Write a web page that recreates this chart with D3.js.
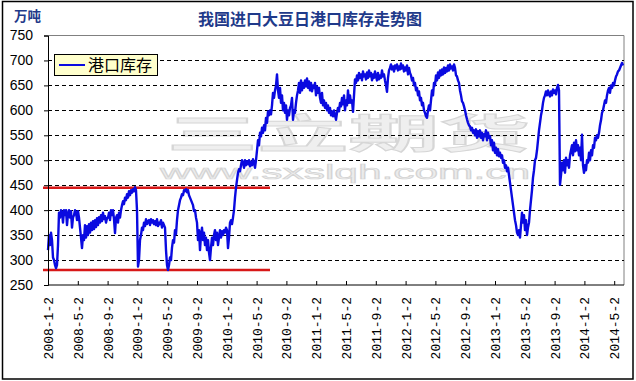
<!DOCTYPE html>
<html><head><meta charset="utf-8">
<script src="https://cdn.jsdelivr.net/npm/d3@7"></script>
<style>body{margin:0;background:#fff}svg{display:block}</style>
</head><body><svg id="c" width="636" height="381"></svg>
<script>
const title = "我国进口大豆日港口库存走势图";
const unitLabel = "万吨";
const seriesName = "港口库存";
const watermarkMain = "三立期货";
const watermarkUrl = "www.sxslqh.com.cn";
const tickLabels = ["2008-1-2","2008-5-2","2008-9-2","2009-1-2","2009-5-2","2009-9-2","2010-1-2","2010-5-2","2010-9-2","2011-1-2","2011-5-2","2011-9-2","2012-1-2","2012-5-2","2012-9-2","2013-1-2","2013-5-2","2013-9-2","2014-1-2","2014-5-2"];
const samplesPerLabel = 29.8; // readings between two consecutive date labels (4 months)
const yTicks = [250,300,350,400,450,500,550,600,650,700,750];
const refLevels = [445, 280];
// port stock readings (10k tonnes), one every few trading days from 2008-1-2
const values = [
320,350,330,355,340,305,300,290,284,290,330,395,
385,
400,395,375,400,390,400,370,392,400,385,398,365,385,390,400,395,380,398,385,365,
345,324,350,340,370,345,368,350,372,355,375,360,378,362,380,366,384,370,386,375,390,378,395,382,388,375,384,385,395,380,400,390,400,382,354,
385,390,375,395,385,400,410,418,412,425,420,432,425,438,430,440,435,442,438,446,
440,400,287,300,340,350,365,360,375,368,382,372,378,380,370,382,375,380,372,378,370,382,368,375,372,
380,365,375,370,365,320,290,280,290,305,300,325,340,335,360,352,380,400,410,420,425,432,430,440,438,442,436,440,430,425,
420,415,410,398,400,385,375,340,360,320,350,365,340,355,330,345,320,340,315,300,325,345,330,350,360,340,355,330,345,360,
345,358,350,360,355,365,360,324,345,375,380,372,385,400,425,445,460,475,482,478,490,500,495,485,500,490,498,492,500,488,
497,490,502,495,485,500,520,540,530,555,548,565,555,570,560,585,575,598,590,600,592,610,635,625,640,650,672,640,625,645,
615,630,600,615,595,610,581,600,590,605,610,625,581,600,595,615,630,640,655,635,660,640,655,645,660,648,664,645,658,640,
655,638,650,645,655,630,648,635,645,625,615,635,610,620,605,615,600,610,595,605,590,598,588,600,590,581,595,605,598,615,
608,625,612,630,600,620,610,640,615,630,615,620,597,630,662,655,670,660,675,665,672,660,678,668,672,662,676,665,680,668,
675,660,672,665,678,668,660,675,662,670,665,680,668,672,660,650,637,665,680,685,692,682,688,678,690,684,692,680,688,682,
694,684,690,678,686,680,690,672,685,675,670,660,665,650,655,640,645,630,638,620,625,610,615,600,595,588,585,600,610,600,
620,640,630,655,650,670,660,676,665,680,670,682,672,686,675,685,678,690,680,692,684,688,680,692,685,670,668,660,655,640,
630,618,615,608,600,590,582,575,570,568,560,565,555,560,550,562,545,558,548,560,545,555,540,552,548,560,540,555,545,548,
530,540,520,535,515,525,510,522,508,515,505,510,495,500,485,490,478,485,470,455,440,425,410,395,380,370,355,350,360,345,
370,395,375,390,360,380,350,365,375,400,420,440,465,480,500,505,520,540,560,575,590,600,615,625,630,638,630,640,632,628,
638,630,642,635,640,632,645,651,640,451,470,495,480,500,475,505,490,500,485,510,520,530,510,535,518,540,520,530,510,525,
500,551,490,475,490,480,500,495,515,500,520,510,530,525,545,540,550,545,555,570,580,595,600,610,620,615,630,640,645,635,
650,645,655,650,660,668,672,678,680,685,690,695,690
];

const svg = d3.select("#c");
const x = d3.scaleLinear().domain([0, values.length - 1]).range([48, 623]);
const y = d3.scaleLinear().domain([250, 750]).range([285, 35.5]);
const navy = "#1f3a8a";

// outer frame
svg.append("rect").attr("x",2.5).attr("y",1.5).attr("width",630.5).attr("height",377.5)
  .attr("fill","#fff").attr("stroke","#000").attr("stroke-width",1.5);

// watermark
svg.append("text").attr("x",167).attr("y",148).text(watermarkMain)
  .attr("font-family","Noto Sans CJK SC").attr("font-weight",700).attr("font-size",40)
  .attr("textLength",363).attr("lengthAdjust","spacingAndGlyphs")
  .attr("fill","#efefef").attr("stroke","#d6d6d6").attr("stroke-width",1);
svg.append("text").attr("x",160).attr("y",179).text(watermarkUrl)
  .attr("font-family","Liberation Sans").attr("font-size",20)
  .attr("textLength",370).attr("lengthAdjust","spacingAndGlyphs")
  .attr("fill","#ececec").attr("stroke","#d4d4d4").attr("stroke-width",0.7);

// plot frame (top/right grey)
svg.append("path").attr("d",`M${x(0)},${y(750)}H624V285`).attr("fill","none").attr("stroke","#808080").attr("stroke-width",1);

// gridlines
svg.append("g").selectAll("line").data(yTicks.filter(v => v > 250 && v < 750)).join("line")
  .attr("x1",48).attr("x2",624).attr("y1",d=>Math.round(y(d))+0.5).attr("y2",d=>Math.round(y(d))+0.5)
  .attr("stroke","#000").attr("stroke-width",1).attr("stroke-dasharray","4,3");

// reference red lines
svg.append("g").selectAll("line").data(refLevels).join("line")
  .attr("x1",43).attr("x2",270).attr("y1",d=>y(d)).attr("y2",d=>y(d))
  .attr("stroke","#d81818").attr("stroke-width",2.5);

// series line
svg.append("path").datum(values)
  .attr("d", d3.line().x((d,i)=>x(i)).y(d=>y(d)))
  .attr("fill","none").attr("stroke","#0a0ae0").attr("stroke-width",2.4).attr("stroke-linejoin","round");

// y axis
const yAxis = svg.append("g").attr("transform","translate(48,0)")
  .call(d3.axisLeft(y).tickValues(yTicks).tickSize(4).tickFormat(d3.format("d")));
yAxis.select(".domain").attr("stroke","#000");
yAxis.selectAll("line").attr("stroke","#000");
yAxis.selectAll("text").attr("font-family","Liberation Sans, Arial").attr("font-size",14).attr("fill","#000").attr("x",-15);

// x axis
const tickIdx = tickLabels.map((d,i)=> i * samplesPerLabel);
const xAxis = svg.append("g").attr("transform","translate(0,285)")
  .call(d3.axisBottom(x).tickValues(tickIdx).tickSizeInner(-4).tickSizeOuter(0).tickFormat((d,i)=>tickLabels[i]));
xAxis.select(".domain").attr("stroke","#000").attr("d","M48,0H624");
xAxis.selectAll("line").attr("stroke","#000");
xAxis.selectAll("text")
  .attr("font-family","Liberation Mono, monospace").attr("font-size",13).attr("fill","#000")
  .attr("text-anchor","end").attr("dy","0.35em").attr("y",0)
  .attr("transform","translate(0,12) rotate(-90)");

// title and unit
svg.append("text").attr("x",310).attr("y",25).attr("text-anchor","middle").text(title)
  .attr("font-family","Noto Sans CJK SC").attr("font-weight",700).attr("font-size",16).attr("fill",navy);
svg.append("text").attr("x",14).attr("y",21).text(unitLabel)
  .attr("font-family","Noto Sans CJK SC").attr("font-weight",700).attr("font-size",13.5).attr("fill",navy);

// legend
const lg = svg.append("g");
lg.append("rect").attr("x",54.5).attr("y",54.5).attr("width",103).attr("height",21)
  .attr("fill","#ffffcc").attr("stroke","#000").attr("stroke-width",1);
lg.append("line").attr("x1",59).attr("x2",85).attr("y1",65).attr("y2",65).attr("stroke","#0a0ae0").attr("stroke-width",2);
lg.append("text").attr("x",88).attr("y",71).text(seriesName)
  .attr("font-family","Noto Sans CJK SC").attr("font-size",16).attr("fill","#000");
</script></body></html>
